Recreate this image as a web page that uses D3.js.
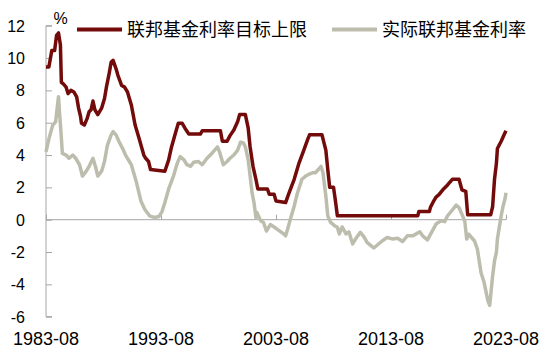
<!DOCTYPE html>
<html><head><meta charset="utf-8">
<script src="https://cdn.jsdelivr.net/npm/d3@7"></script>
<style>
html,body{margin:0;padding:0;background:#fff;}
svg{display:block;}
</style></head>
<body>
<svg id="c" width="550" height="354"></svg>
<script>
const seriesNames = ["联邦基金利率目标上限", "实际联邦基金利率"];
const yTicks = [-6, -4, -2, 0, 2, 4, 6, 8, 10, 12];
const xTickLabels = ["1983-08", "1993-08", "2003-08", "2013-08", "2023-08"];

const targetDates = ["1983-08","1983-11","1984-02","1984-05","1984-07","1984-09","1984-11","1984-12","1985-02","1985-05","1985-07","1985-10","1986-01","1986-04","1986-06","1986-08","1986-09","1986-12","1987-03","1987-05","1987-07","1987-09","1987-11","1988-02","1988-06","1988-09","1988-11","1989-02","1989-04","1989-06","1989-09","1989-11","1990-03","1990-06","1990-09","1991-01","1991-05","1991-09","1992-02","1992-04","1992-07","1992-09","1993-12","1994-04","1994-07","1994-11","1995-02","1995-06","1995-09","1996-01","1997-01","1997-03","1998-10","1998-12","1999-05","1999-08","1999-12","2000-04","2000-06","2000-12","2001-03","2001-05","2001-08","2001-11","2002-01","2002-11","2003-01","2003-06","2003-08","2004-06","2004-09","2005-03","2005-08","2006-01","2006-05","2006-07","2007-08","2007-12","2008-02","2008-04","2008-08","2008-10","2008-12","2015-12","2016-01","2016-12","2017-01","2017-04","2017-07","2017-10","2018-02","2018-07","2018-12","2019-07","2019-10","2020-02","2020-04","2022-04","2022-06","2022-08","2022-10","2022-11","2023-03","2023-06","2023-08"];
const targetValues = [9.45,9.45,10.47,10.47,11.4,11.55,10.8,8.5,8.4,8.2,7.8,8.0,7.9,7.6,6.9,6.4,5.97,5.86,6.27,6.68,6.8,7.34,6.8,6.5,6.9,7.5,8.2,9.1,9.75,9.85,9.35,8.93,8.3,8.2,7.9,7.1,5.86,5.05,4.0,3.8,3.6,3.1,3.0,3.7,4.5,5.35,5.97,5.97,5.66,5.3,5.3,5.5,5.5,4.85,4.85,5.2,5.55,6.07,6.5,6.5,5.66,4.5,3.3,2.5,1.9,1.9,1.57,1.57,1.16,1.06,1.57,2.5,3.5,4.3,4.95,5.25,5.25,4.3,3.1,2.0,2.0,1.16,0.25,0.25,0.5,0.5,0.75,1.1,1.4,1.55,1.85,2.15,2.5,2.5,1.85,1.75,0.3,0.3,0.8,2.5,3.5,4.4,4.85,5.25,5.5];

const realDates = ["1983-08","1983-11","1984-03","1984-06","1984-08","1984-09","1984-10","1984-12","1985-01","1985-05","1985-08","1985-12","1986-03","1986-07","1986-10","1987-02","1987-05","1987-09","1987-12","1988-02","1988-06","1988-09","1988-12","1989-04","1989-06","1989-09","1989-12","1990-04","1990-07","1991-01","1991-06","1991-11","1992-03","1992-08","1993-01","1993-06","1993-09","1993-12","1994-04","1994-09","1995-01","1995-04","1995-08","1995-11","1996-03","1996-06","1996-11","1997-03","1997-08","1998-01","1998-07","1998-09","1999-01","1999-05","1999-08","1999-12","2000-04","2000-07","2000-10","2000-12","2001-03","2001-05","2001-07","2001-09","2001-11","2001-12","2002-04","2002-07","2002-10","2003-02","2003-06","2003-09","2004-04","2004-06","2004-08","2004-11","2005-03","2005-06","2005-11","2006-03","2006-06","2006-10","2007-01","2007-05","2007-07","2007-09","2007-12","2008-02","2008-05","2008-09","2008-12","2009-02","2009-05","2009-09","2009-12","2010-04","2010-07","2010-12","2011-04","2011-07","2011-11","2012-02","2012-06","2012-11","2013-04","2013-10","2014-03","2014-08","2015-01","2015-07","2016-02","2016-05","2016-10","2017-04","2017-07","2017-12","2018-04","2018-07","2018-12","2019-04","2019-07","2019-10","2020-01","2020-03","2020-05","2020-11","2021-02","2021-06","2021-09","2022-01","2022-03","2022-04","2022-06","2022-08","2022-10","2022-11","2023-01","2023-03","2023-05","2023-07","2023-08"];
const realValues = [4.2,5.0,5.85,6.05,7.1,7.6,6.7,5.05,4.1,4.0,3.8,4.0,3.8,3.4,2.7,3.0,3.3,3.8,3.2,2.7,3.0,3.6,4.6,5.25,5.45,5.25,4.85,4.4,4.0,3.4,2.4,1.16,0.65,0.24,0.14,0.2,0.5,1.06,1.9,2.7,3.5,3.9,3.7,3.4,3.3,3.55,3.6,3.4,3.8,4.1,4.5,4.2,3.4,3.6,3.8,4.0,4.3,4.8,4.75,4.5,3.7,2.7,1.67,1.06,0.14,0.45,-0.07,-0.17,-0.7,-0.3,-0.45,-0.58,-0.88,-1.0,-0.6,0.04,0.85,1.57,2.5,2.7,2.8,2.9,2.9,3.15,3.3,2.9,1.47,0.24,-0.17,-0.37,-0.47,-0.88,-0.45,-0.88,-0.75,-1.5,-1.2,-0.78,-1.08,-1.4,-1.6,-1.75,-1.55,-1.3,-1.1,-1.2,-1.15,-1.35,-1.0,-1.0,-0.75,-1.0,-1.25,-0.6,-0.27,-0.07,-0.12,0.24,0.6,0.9,0.75,0.34,-0.1,-1.2,-0.9,-1.3,-1.8,-3.3,-3.85,-5.0,-5.3,-4.7,-3.5,-2.55,-2.0,-1.2,-0.45,0.24,0.85,1.3,1.67];

const parse = d3.timeParse("%Y-%m");
const colors = ["#730b0b", "#bdbdad"];

const svg = d3.select("#c");
const x = d3.scaleTime().domain([parse("1983-08"), parse("2023-08")]).range([46, 506]);
const y = d3.scaleLinear().domain([-6, 12]).range([316.7, 25.7]);

const numFont = "'Liberation Sans', Arial, sans-serif";
const cjkFont = "'Noto Sans CJK SC', sans-serif";

// Y axis (ticks inside)
const yAxis = svg.append("g").attr("transform", "translate(46,0)")
  .call(d3.axisRight(y).tickValues(yTicks).tickSize(6).tickFormat(d => String(d)));
yAxis.select(".domain").attr("stroke", "#a6a6a6").attr("d", `M6,${y(12)}H0V${y(-6)}H6`);
yAxis.selectAll(".tick line").attr("stroke", "#a6a6a6");
yAxis.selectAll(".tick text").attr("x", -21).attr("text-anchor", "end")
  .attr("font-family", numFont).attr("font-size", 16).attr("fill", "#000").attr("dy", "0.35em");

// X axis along zero line with small upward ticks
const xAxis = svg.append("g").attr("transform", `translate(0,${y(0)})`)
  .call(d3.axisTop(x).tickValues(xTickLabels.map(parse)).tickSize(5).tickFormat(""));
xAxis.select(".domain").attr("stroke", "#a6a6a6").attr("d", `M${x.range()[0]},0H${x.range()[1]}`);
xAxis.selectAll(".tick line").attr("stroke", "#a6a6a6");

// X labels at bottom
svg.append("g").selectAll("text").data(xTickLabels).join("text")
  .attr("x", d => x(parse(d)))
  .attr("y", 345)
  .attr("text-anchor", "middle")
  .attr("font-family", numFont).attr("font-size", 18).attr("fill", "#000")
  .text(d => d);

// unit
svg.append("text").attr("x", 60.5).attr("y", 23.5).attr("text-anchor", "middle")
  .attr("font-family", numFont).attr("font-size", 16).text("%");

const line = d3.line().x(d => x(d.date)).y(d => y(d.value));
const realData = realDates.map((d, i) => ({date: parse(d), value: realValues[i]}));
const targetData = targetDates.map((d, i) => ({date: parse(d), value: targetValues[i]}));

svg.append("path").datum(realData).attr("d", line)
  .attr("fill", "none").attr("stroke", colors[1]).attr("stroke-width", 3.5).attr("stroke-linejoin", "round");
svg.append("path").datum(targetData).attr("d", line)
  .attr("fill", "none").attr("stroke", colors[0]).attr("stroke-width", 3.5).attr("stroke-linejoin", "round");

// Legend
const legendX = [77, 332];
seriesNames.forEach((name, i) => {
  const g = svg.append("g").attr("transform", `translate(${legendX[i]},29.5)`);
  g.append("line").attr("x1", 0).attr("x2", 45).attr("stroke", colors[i]).attr("stroke-width", 4);
  g.append("text").attr("x", 50).attr("dy", "0.35em")
    .attr("font-family", cjkFont).attr("font-size", 18).attr("fill", "#000").text(name);
});
</script>
</body></html>
